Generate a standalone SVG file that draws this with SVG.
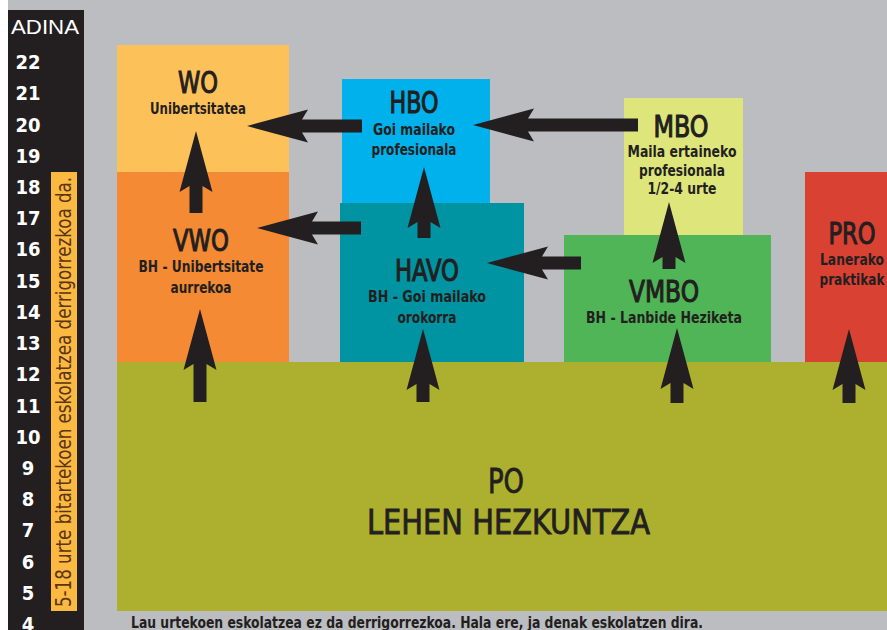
<svg xmlns="http://www.w3.org/2000/svg" width="887" height="630" viewBox="0 0 887 630">
<style>
.c{font-family:'Liberation Sans Narrow','DejaVu Sans Condensed','Liberation Sans',sans-serif;font-stretch:condensed;fill:#231f20;text-anchor:middle}
.t{font-size:31px;stroke:#231f20;stroke-width:1.1px}
.p{font-size:34px;stroke:#231f20;stroke-width:0.8px}
.s{font-size:15px;font-weight:bold}
.n{font-family:'Liberation Sans Narrow','DejaVu Sans Condensed','Liberation Sans',sans-serif;font-stretch:condensed;font-size:20px;font-weight:bold;fill:#ffffff;text-anchor:middle}
.arr{fill:#231f20}
</style>
<rect x="0" y="0" width="887" height="630" fill="#bcbdc1"/>
<rect x="0" y="0" width="8" height="630" fill="#ffffff"/>
<g id="age-axis">
<rect x="8" y="10" width="76" height="620" fill="#231f20"/>
<text x="45" y="34" font-family="'Liberation Sans',sans-serif" font-size="21" fill="#ffffff" text-anchor="middle" textLength="68" lengthAdjust="spacingAndGlyphs">ADINA</text>
<text class="n" x="28" y="69">22</text>
<text class="n" x="28" y="100">21</text>
<text class="n" x="28" y="132">20</text>
<text class="n" x="28" y="163">19</text>
<text class="n" x="28" y="194">18</text>
<text class="n" x="28" y="225">17</text>
<text class="n" x="28" y="256">16</text>
<text class="n" x="28" y="288">15</text>
<text class="n" x="28" y="319">14</text>
<text class="n" x="28" y="350">13</text>
<text class="n" x="28" y="381">12</text>
<text class="n" x="28" y="413">11</text>
<text class="n" x="28" y="444">10</text>
<text class="n" x="28" y="475">9</text>
<text class="n" x="28" y="506">8</text>
<text class="n" x="28" y="537">7</text>
<text class="n" x="28" y="569">6</text>
<text class="n" x="28" y="600">5</text>
<text class="n" x="28" y="631">4</text>
<rect x="51" y="172" width="26" height="439" fill="#fcb942"/>
<text transform="translate(71,607) rotate(-90)" x="0" y="0" font-family="'Liberation Sans Narrow','DejaVu Sans Condensed',sans-serif" font-size="21" fill="#5a3514" textLength="430" lengthAdjust="spacingAndGlyphs">5-18 urte bitartekoen eskolatzea derrigorrezkoa da.</text>
</g>
<g id="PO">
<rect x="117" y="362" width="770" height="249" fill="#adb02e"/>
<text class="c p" x="506" y="493" textLength="36" lengthAdjust="spacingAndGlyphs">PO</text>
<text class="c p" x="508.5" y="534" textLength="283" lengthAdjust="spacingAndGlyphs">LEHEN HEZKUNTZA</text>
</g>
<g id="WO">
<rect x="117" y="45" width="172" height="127" fill="#fdc15a"/>
<text class="c t" x="198" y="93" textLength="40" lengthAdjust="spacingAndGlyphs">WO</text>
<text class="c s" x="198" y="114" textLength="96" lengthAdjust="spacingAndGlyphs">Unibertsitatea</text>
</g>
<g id="VWO">
<rect x="117" y="172" width="172" height="190" fill="#f48a33"/>
<text class="c t" x="201" y="251" textLength="56" lengthAdjust="spacingAndGlyphs">VWO</text>
<text class="c s" x="201" y="272" textLength="125" lengthAdjust="spacingAndGlyphs">BH - Unibertsitate</text>
<text class="c s" x="201" y="293" textLength="61" lengthAdjust="spacingAndGlyphs">aurrekoa</text>
</g>
<g id="HBO">
<rect x="342" y="79" width="148" height="124" fill="#00b1eb"/>
<text class="c t" x="414" y="113" textLength="49" lengthAdjust="spacingAndGlyphs">HBO</text>
<text class="c s" x="414" y="135" textLength="82" lengthAdjust="spacingAndGlyphs">Goi mailako</text>
<text class="c s" x="414" y="155" textLength="85" lengthAdjust="spacingAndGlyphs">profesionala</text>
</g>
<g id="HAVO">
<rect x="340" y="203" width="184" height="159" fill="#0093a1"/>
<text class="c t" x="427" y="281" textLength="64" lengthAdjust="spacingAndGlyphs">HAVO</text>
<text class="c s" x="427" y="302" textLength="118" lengthAdjust="spacingAndGlyphs">BH - Goi mailako</text>
<text class="c s" x="427" y="323" textLength="59" lengthAdjust="spacingAndGlyphs">orokorra</text>
</g>
<g id="MBO">
<rect x="624" y="98" width="119" height="137" fill="#dee67b"/>
<text class="c t" x="681" y="137" textLength="55" lengthAdjust="spacingAndGlyphs">MBO</text>
<text class="c s" x="682" y="157" textLength="109" lengthAdjust="spacingAndGlyphs">Maila ertaineko</text>
<text class="c s" x="682" y="176" textLength="86" lengthAdjust="spacingAndGlyphs">profesionala</text>
<text class="c s" x="682" y="194" textLength="69" lengthAdjust="spacingAndGlyphs">1/2-4 urte</text>
</g>
<g id="VMBO">
<rect x="564" y="235" width="207" height="127" fill="#4fb556"/>
<text class="c t" x="664" y="302" textLength="70" lengthAdjust="spacingAndGlyphs">VMBO</text>
<text class="c s" x="664" y="323" textLength="156" lengthAdjust="spacingAndGlyphs">BH - Lanbide Heziketa</text>
</g>
<g id="PRO">
<rect x="805" y="172" width="82" height="190" fill="#d94132"/>
<text class="c t" x="852" y="244" textLength="47" lengthAdjust="spacingAndGlyphs">PRO</text>
<text class="c s" x="852" y="265" textLength="64" lengthAdjust="spacingAndGlyphs">Lanerako</text>
<text class="c s" x="852" y="285" textLength="65" lengthAdjust="spacingAndGlyphs">praktikak</text>
</g>
<g id="connectors" class="arr">
<path d="M196,131 L212.5,192 L202.5,186 L202.5,213 L189.5,213 L189.5,186 L179.5,192 Z"/>
<path d="M200,309 L216.5,370 L206.5,364 L206.5,402 L193.5,402 L193.5,364 L183.5,370 Z"/>
<path d="M423,329 L439.5,390 L429.5,384 L429.5,402 L416.5,402 L416.5,384 L406.5,390 Z"/>
<path d="M424,167 L440.5,228 L430.5,222 L430.5,238 L417.5,238 L417.5,222 L407.5,228 Z"/>
<path d="M677,328 L693.5,389 L683.5,383 L683.5,403 L670.5,403 L670.5,383 L660.5,389 Z"/>
<path d="M669,202 L685.5,263 L675.5,257 L675.5,269 L662.5,269 L662.5,257 L652.5,263 Z"/>
<path d="M849,329 L865.5,390 L855.5,384 L855.5,403 L842.5,403 L842.5,384 L832.5,390 Z"/>
<path d="M247,126 L308,109.5 L302,119.5 L362,119.5 L362,132.5 L302,132.5 L308,142.5 Z"/>
<path d="M473,125 L534,108.5 L528,118.5 L638,118.5 L638,131.5 L528,131.5 L534,141.5 Z"/>
<path d="M257,228 L318,211.5 L312,221.5 L361,221.5 L361,234.5 L312,234.5 L318,244.5 Z"/>
<path d="M487,263 L548,246.5 L542,256.5 L581,256.5 L581,269.5 L542,269.5 L548,279.5 Z"/>
</g>
<text id="note" class="c" x="131" y="628" font-size="15" font-weight="bold" style="text-anchor:start" textLength="572" lengthAdjust="spacingAndGlyphs">Lau urtekoen eskolatzea ez da derrigorrezkoa. Hala ere, ja denak eskolatzen dira.</text>
</svg>
